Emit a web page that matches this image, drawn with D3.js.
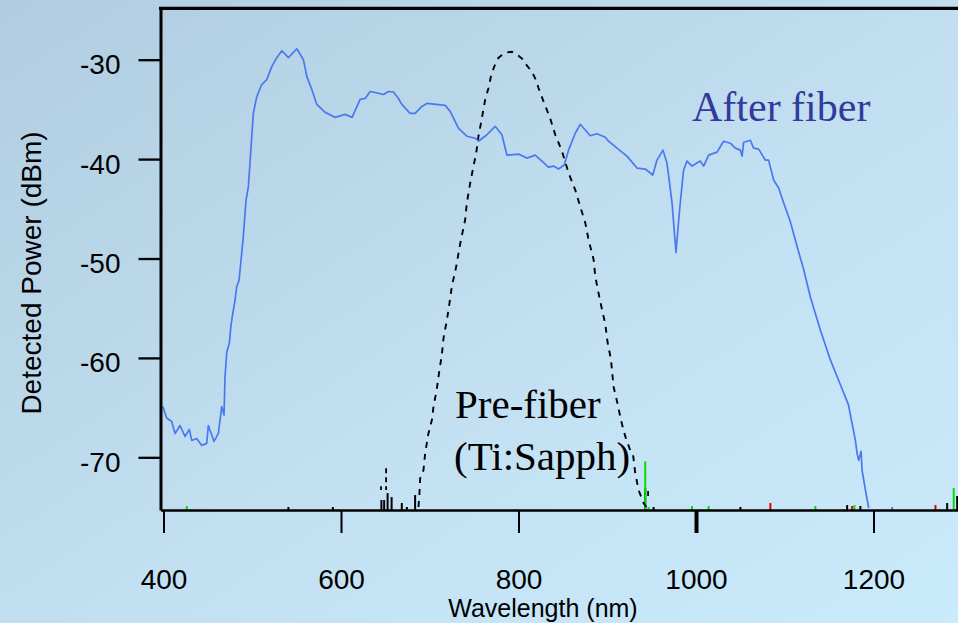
<!DOCTYPE html>
<html lang="en">
<head>
<meta charset="UTF-8">
<title>Detected power vs wavelength</title>
<script src="https://d3js.org/d3.v7.min.js"></script>
<style>
  body { margin: 0; width: 958px; height: 623px; overflow: hidden; }
  svg { display: block; }
  .axis text { font-family: "Liberation Sans", Arial, sans-serif; fill: #000; }
  .note { font-family: "Liberation Serif", "Times New Roman", serif; }
</style>
</head>
<body>
<script>
// after-fiber spectrum (nm, dBm)
const afterWl = [399.1, 403.6, 409.2, 413.0, 418.6, 424.2, 429.1, 431.8, 437.4, 443.1, 448.7, 450.5, 456.9, 461.8, 465.6, 468.2,
  469.3, 471.3, 474.2, 475.8, 477.2, 480.6, 482.5, 485.1, 489.6, 493.0, 495.6, 501.2, 505.1, 510.7, 516.3, 522.0, 527.6, 533.3,
  540.7, 550.2, 557.6, 561.5, 567.1, 572.7, 582.1, 593.3, 604.6, 612.5, 621.5, 627.2, 632.8, 638.4, 647.8, 653.4, 659.1, 664.7,
  668.5, 677.9, 683.5, 691.1, 696.7, 717.4, 723.0, 732.4, 741.8, 751.2, 754.9, 764.4, 773.7, 781.3, 786.9, 800.0, 809.5, 818.8,
  826.4, 833.8, 839.5, 845.1, 851.5, 856.4, 863.9, 869.6, 880.8, 888.4, 897.8, 901.5, 910.9, 922.2, 933.5, 942.8, 951.3, 956.0,
  962.8, 967.3, 973.0, 977.4, 981.5, 986.0, 989.8, 995.5, 1004.8, 1008.6, 1014.2, 1023.7, 1031.1, 1038.7, 1044.3, 1050.0, 1051.9,
  1053.7, 1061.2, 1064.9, 1070.6, 1078.1, 1081.8, 1087.5, 1093.1, 1098.7, 1106.3, 1113.9, 1121.3, 1128.9, 1140.1, 1151.4, 1162.7,
  1171.7, 1179.6, 1181.5, 1183.3, 1186.0, 1187.1, 1190.9, 1194.6];
const afterDbm = [-64.9, -66.05, -66.4, -67.6, -66.8, -67.9, -67.2, -68.3, -68.1, -68.8, -68.6, -66.8, -68.4, -67.6, -64.9, -65.75,
  -61.9, -59.4, -58.5, -56.9, -56.0, -54.2, -52.8, -52.2, -48.1, -44.1, -42.8, -35.4, -33.7, -32.5, -32.0, -30.7, -29.8, -29.1,
  -29.8, -28.9, -30.0, -31.7, -33.0, -34.5, -35.3, -35.8, -35.5, -35.8, -34.0, -33.9, -33.2, -33.3, -33.5, -33.2, -33.25, -33.9,
  -34.5, -35.4, -35.4, -34.7, -34.4, -34.6, -35.2, -36.9, -37.7, -37.9, -38.2, -37.55, -36.7, -37.55, -39.6, -39.5, -39.9, -39.6,
  -40.2, -40.8, -40.7, -41.0, -40.6, -39.1, -37.4, -36.5, -37.65, -37.45, -37.8, -38.2, -38.9, -39.7, -40.9, -41.0, -41.6, -40.1,
  -39.1, -40.4, -44.4, -49.4, -45.1, -41.1, -40.2, -40.7, -40.2, -40.7, -39.6, -39.3, -38.2, -38.4, -38.9, -39.1, -39.7,
  -38.3, -38.1, -38.9, -39.0, -40.1, -40.1, -42.1, -42.9, -44.4, -46.3, -48.8, -51.1, -53.9, -57.2, -60.2, -62.7,
  -64.7, -68.3, -69.6, -70.3, -69.4, -71.3, -73.3, -75.1];

// pre-fiber (Ti:Sapph) spectrum
const preWl = [687.3, 688.4, 689.2, 692.9, 694.8, 698.5, 702.4, 704.2, 708.0, 710.6, 713.6, 715.5, 719.3, 722.2, 724.9, 729.8,
  734.3, 739.9, 741.8, 745.6, 749.3, 752.3, 754.9, 758.7, 762.5, 766.2, 768.9, 772.6, 777.5, 785.0, 792.6, 800.0, 805.3, 809.5,
  815.1, 820.7, 822.5, 828.2, 835.7, 841.4, 848.9, 856.4, 863.9, 869.6, 875.2, 878.9, 884.6, 886.5, 890.2, 894.0, 897.8, 900.3,
  904.2, 907.1, 911.6, 915.4, 920.3, 925.9, 929.3, 931.5, 935.3, 940.9, 944.8];
const preDbm = [-75.0, -73.6, -72.1, -71.3, -69.6, -67.6, -66.25, -64.9, -63.1, -61.4, -59.7, -58.0, -56.2, -54.5, -52.8, -50.8,
  -48.5, -46.1, -44.4, -42.4, -40.7, -39.4, -37.7, -35.9, -34.0, -32.85, -31.7, -30.7, -29.8, -29.3, -29.2, -29.6, -30.0, -30.6,
  -31.2, -32.25, -32.85, -34.2, -35.9, -37.55, -39.2, -41.4, -43.1, -44.8, -46.4, -48.1, -50.1, -51.8, -53.5, -55.1, -56.6, -58.4,
  -60.2, -62.9, -64.6, -66.25, -67.9, -69.3, -69.9, -71.6, -73.3, -74.6, -75.1];

// noise spikes near the floor: [nm, top dBm]
const blackSpikes = [[540.7, -75.0], [590.8, -75.0], [645.5, -74.3], [648.6, -74.3], [652.5, -73.6], [657.0, -74.0],
  [668.5, -74.6], [674.2, -75.0], [683.5, -73.8], [942.8, -73.1], [952.2, -75.0], [1050, -75.0], [1170.3, -74.8],
  [1185.2, -74.9], [1283, -74.6], [1294.3, -73.9]];
const greenSpikes = [[426.2, -74.9], [942.8, -70.4], [946.5, -75.0], [995.5, -74.9], [1014.2, -74.9], [1134.5, -74.9],
  [1178.5, -74.8], [1290.4, -73.1]];
const redSpikes = [[1083.8, -74.6], [1175.9, -74.9], [1269.8, -74.8]];
const blueSpikes = [[1221, -75.0]];
// loose dashes of the pre-fiber trace: [nm, top dBm, bottom dBm]
const preFloat = [[650.8, -71.1, -73.3], [645.0, -72.9, -73.3], [946.0, -73.4, -74.2]];

const xTicks = [400, 600, 800, 1000, 1200];
const yTicks = [-30, -40, -50, -60, -70];

const W = 958, H = 623;
const x = d3.scaleLinear().domain([396.6, 1295.2]).range([160.5, 958]);
const y = d3.scaleLinear().domain([-75.3, -24.8]).range([510, 8]);

const svg = d3.select("body").append("svg").attr("width", W).attr("height", H);

const grad = svg.append("defs").append("linearGradient")
  .attr("id", "bg").attr("x1", 0).attr("y1", 0).attr("x2", 1).attr("y2", 1);
grad.append("stop").attr("offset", "0%").attr("stop-color", "#b1cce0");
grad.append("stop").attr("offset", "55%").attr("stop-color", "#c2e0f2");
grad.append("stop").attr("offset", "100%").attr("stop-color", "#caebfc");
svg.append("rect").attr("width", W).attr("height", H).attr("fill", "url(#bg)");

// spikes
const spikeSets = [[blackSpikes, "#000"], [greenSpikes, "#00e000"], [redSpikes, "#e00000"], [blueSpikes, "#4a78f0"]];
spikeSets.forEach(([arr, col]) => {
  svg.append("g").selectAll("line").data(arr).join("line")
    .attr("x1", d => x(d[0])).attr("x2", d => x(d[0]))
    .attr("y1", y(-75.3)).attr("y2", d => y(d[1]))
    .attr("stroke", col).attr("stroke-width", 2);
});
svg.append("g").selectAll("line").data(preFloat).join("line")
  .attr("x1", d => x(d[0])).attr("x2", d => x(d[0]))
  .attr("y1", d => y(d[1])).attr("y2", d => y(d[2]))
  .attr("stroke", "#000").attr("stroke-width", 1.8).attr("stroke-dasharray", "5,4");

const line = d3.line().x(d => x(d[0])).y(d => y(d[1]));

svg.append("path")
  .datum(preWl.map((w, i) => [w, preDbm[i]]))
  .attr("d", line)
  .attr("fill", "none").attr("stroke", "#000").attr("stroke-width", 1.9)
  .attr("stroke-dasharray", "6,6");

svg.append("path")
  .datum(afterWl.map((w, i) => [w, afterDbm[i]]))
  .attr("d", line)
  .attr("fill", "none").attr("stroke", "#4a78f0").attr("stroke-width", 1.7)
  .attr("stroke-linejoin", "round");

// axes
const gx = svg.append("g").attr("class", "axis").attr("transform", "translate(0,510)")
  .call(d3.axisBottom(x).tickValues(xTicks).tickFormat(d3.format("d"))
    .tickSize(23).tickSizeOuter(0).tickPadding(36));
gx.select(".domain").attr("stroke", "#000").attr("stroke-width", 2.4);
gx.selectAll(".tick line").attr("stroke", "#000").attr("stroke-width", d => d === 1000 ? 4 : 2);
gx.selectAll(".tick text").attr("font-size", 28);

const gy = svg.append("g").attr("class", "axis").attr("transform", "translate(160.5,0)")
  .call(d3.axisLeft(y).tickValues(yTicks).tickFormat(d => "-" + Math.abs(d))
    .tickSize(22).tickSizeOuter(0).tickPadding(18));
gy.select(".domain").attr("stroke", "#000").attr("stroke-width", 3);
gy.selectAll(".tick line").attr("stroke", "#000").attr("stroke-width", 2.3);
gy.selectAll(".tick text").attr("font-size", 28).attr("y", 5);

svg.append("line").attr("x1", 159).attr("x2", W).attr("y1", 8.3).attr("y2", 8.3)
  .attr("stroke", "#000").attr("stroke-width", 3.2);

svg.append("text").attr("class", "axis")
  .attr("x", 543).attr("y", 617).attr("text-anchor", "middle")
  .attr("font-family", "Liberation Sans, Arial, sans-serif").attr("font-size", 25)
  .text("Wavelength (nm)");

svg.append("text")
  .attr("transform", "translate(41,273) rotate(-90)").attr("text-anchor", "middle")
  .attr("font-family", "Liberation Sans, Arial, sans-serif").attr("font-size", 28)
  .text("Detected Power (dBm)");

// annotations
svg.append("text").attr("class", "note").attr("x", 692).attr("y", 121).attr("font-size", 42)
  .attr("fill", "#343a9c").text("After fiber");
svg.append("text").attr("class", "note").attr("x", 455).attr("y", 418).attr("font-size", 41)
  .attr("fill", "#000").text("Pre-fiber");
svg.append("text").attr("class", "note").attr("x", 454).attr("y", 470).attr("font-size", 41)
  .attr("fill", "#000").text("(Ti:Sapph)");
</script>
</body>
</html>
